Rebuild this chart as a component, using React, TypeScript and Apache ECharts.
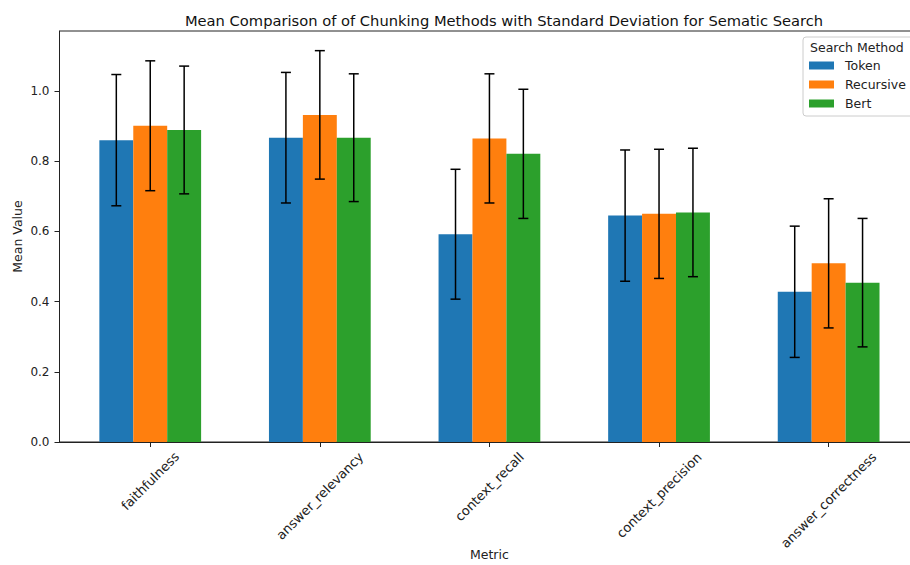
import React, { useEffect, useRef } from "react";
import * as echarts from "echarts";

const categories = ["faithfulness", "answer_relevancy", "context_recall", "context_precision", "answer_correctness"];
const methods = ["Token", "Recursive", "Bert"];
const tokenMean = [0.860, 0.867, 0.592, 0.645, 0.428];
const recursiveMean = [0.901, 0.932, 0.865, 0.650, 0.509];
const bertMean = [0.889, 0.867, 0.821, 0.654, 0.454];
const tokenStd = [0.187, 0.186, 0.185, 0.187, 0.187];
const recursiveStd = [0.185, 0.183, 0.184, 0.184, 0.184];
const bertStd = [0.182, 0.182, 0.184, 0.183, 0.183];
const yTicks = [0, 0.2, 0.4, 0.6, 0.8, 1.0];

const colors = ["#1f77b4", "#ff7f0e", "#2ca02c"];
const FONT = "DejaVu Sans";

export default function App() {
  const ref = useRef<HTMLDivElement>(null);
  useEffect(() => {
    if (!ref.current) return;
    const chart = echarts.init(ref.current, null, { renderer: "svg" });

    const means = [tokenMean, recursiveMean, bertMean];
    const stds = [tokenStd, recursiveStd, bertStd];

    const xMin = -0.535;
    const xMax = 4.535;
    const gridLeft = 59.5;
    const unitPx = 169.6;
    const plotW = (xMax - xMin) * unitPx;
    const gridRight = 910 - gridLeft - plotW;
    const barFrac = 0.2;
    const barPx = barFrac * unitPx;

    // measure label widths to center rotated labels under ticks
    const canvas = document.createElement("canvas");
    const ctx = canvas.getContext("2d")!;
    const labelFont = 13;
    ctx.font = `${labelFont}px "${FONT}"`;
    const rich: Record<string, any> = {};
    categories.forEach((c, i) => {
      const L = ctx.measureText(c).width;
      const p = Math.round((L + labelFont) / 2);
      rich["l" + i] = {
        fontFamily: FONT,
        fontSize: labelFont,
        color: "#222",
        padding: [p, p, 0, 0],
      };
    });

    const barSeries = methods.map((m, si) => ({
      name: m,
      type: "bar",
      barWidth: barPx,
      barGap: "0%",
      itemStyle: { color: colors[si] },
      data: categories.map((_, ci) => [ci, means[si][ci]]),
      z: 2,
    }));

    const errSeries = methods.map((m, si) => ({
      type: "custom",
      name: m + " std",
      z: 5,
      encode: { x: 0, y: 1 },
      data: categories.map((_, ci) => [ci, means[si][ci], stds[si][ci]]),
      renderItem: (params: any, api: any) => {
        const x = api.value(0) + (si - 1) * barFrac;
        const mean = api.value(1);
        const sd = api.value(2);
        const top = api.coord([x, mean + sd]);
        const bot = api.coord([x, mean - sd]);
        const cap = 5;
        const style = { stroke: "#000", lineWidth: 1.5 };
        return {
          type: "group",
          children: [
            { type: "line", shape: { x1: top[0], y1: top[1], x2: bot[0], y2: bot[1] }, style },
            { type: "line", shape: { x1: top[0] - cap, y1: top[1], x2: top[0] + cap, y2: top[1] }, style },
            { type: "line", shape: { x1: bot[0] - cap, y1: bot[1], x2: bot[0] + cap, y2: bot[1] }, style },
          ],
        };
      },
    }));

    chart.setOption({
      animation: false,
      backgroundColor: "#fff",
      title: {
        text: "Mean Comparison of of Chunking Methods with Standard Deviation for Sematic Search",
        left: 499,
        textAlign: "center",
        top: 8,
        textStyle: { fontFamily: FONT, fontSize: 14.7, fontWeight: "normal", color: "#111" },
      },
      grid: {
        left: gridLeft,
        right: gridRight,
        top: 31,
        bottom: 123,
        containLabel: false,
        outerBoundsMode: "none",
        show: true,
        borderColor: "#222",
        borderWidth: 1,
        backgroundColor: "transparent",
      },
      legend: {
        data: methods,
        orient: "vertical",
        left: 803,
        top: 37,
        padding: [22, 8, 6, 6],
        itemWidth: 25,
        itemHeight: 8,
        itemGap: 6,
        icon: "rect",
        backgroundColor: "#fff",
        borderColor: "#ccc",
        borderWidth: 1,
        borderRadius: 3,
        textStyle: { fontFamily: FONT, fontSize: 12.5, color: "#222", padding: [0, 0, 0, 6] },
      },
      graphic: [
        {
          type: "text",
          left: 810,
          top: 41,
          z: 100,
          style: { text: "Search Method", fontFamily: FONT, fontSize: 12.5, fill: "#222" },
        },
      ],
      xAxis: {
        type: "value",
        min: xMin,
        max: xMax,
        name: "Metric",
        nameLocation: "middle",
        nameGap: 106,
        nameMoveOverlap: false,
        nameTextStyle: { fontFamily: FONT, fontSize: 12.5, color: "#222" },
        splitLine: { show: false },
        axisLine: { show: true, onZero: false, lineStyle: { color: "#222", width: 1 } },
        axisTick: { show: true, inside: false, length: 5, customValues: [0, 1, 2, 3, 4], lineStyle: { color: "#222" } },
        axisLabel: {
          customValues: [0, 1, 2, 3, 4],
          rotate: 45,
          align: "center",
          verticalAlign: "middle",
          margin: 8,
          interval: 0,
          formatter: (v: number) => {
            const i = Math.round(v);
            return `{l${i}|${categories[i]}}`;
          },
          rich,
        },
      },
      yAxis: {
        type: "value",
        min: 0,
        max: 1.171,
        interval: 0.2,
        name: "Mean Value",
        nameLocation: "middle",
        nameGap: 36,
        nameMoveOverlap: false,
        nameTextStyle: { fontFamily: FONT, fontSize: 12.5, color: "#222" },
        splitLine: { show: false },
        axisLine: { show: true, onZero: false, lineStyle: { color: "#222", width: 1 } },
        axisTick: { show: true, inside: false, length: 5, customValues: yTicks, lineStyle: { color: "#222" } },
        axisLabel: {
          customValues: yTicks,
          fontFamily: FONT,
          fontSize: 12,
          color: "#222",
          margin: 10,
          formatter: (v: number) => v.toFixed(1),
        },
      },
      series: [...barSeries, ...errSeries],
    });
    return () => chart.dispose();
  }, []);
  return <div ref={ref} style={{ position: "absolute", left: 0, top: 0, width: 910, height: 565 }} />;
}
